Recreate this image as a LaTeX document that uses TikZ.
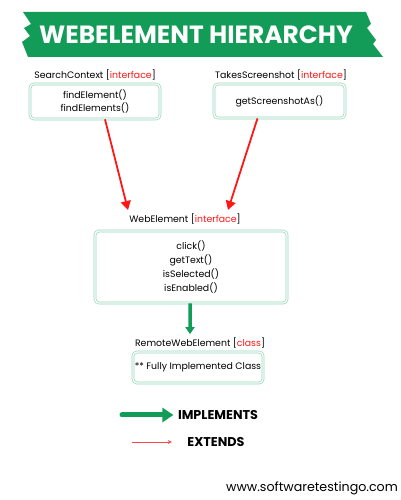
\documentclass[tikz,border=0pt]{standalone}
\usepackage{fontspec}
\setmainfont{Poppins}
\usepackage{xcolor}
\usetikzlibrary{arrows,arrows.meta,positioning}
\definecolor{bannergreen}{RGB}{19,156,87}
\definecolor{boxgreen}{RGB}{150,214,186}
\definecolor{ifred}{RGB}{255,22,22}

\begin{document}
\begin{tikzpicture}[x=1bp,y=1bp,>={Triangle[length=9bp,width=10bp]},semithick,
                    node distance=14bp]
  \tikzstyle{every node}=[font=\fontsize{9.4}{14}\selectfont,text=black]
  \tikzstyle{box}=[draw=boxgreen,double=white,double distance=1.3bp,line width=0.7bp,
                   rounded corners=4bp,align=center,inner sep=0pt]
  \tikzstyle{legend}=[font=\fontsize{12.8}{13}\selectfont\bfseries]
  \tikzstyle{extends}=[->,color=ifred,line width=1.8bp]
  \tikzstyle{implements}=[-{Triangle[length=7bp,width=9bp]},color=bannergreen,line width=3.5bp]

  \useasboundingbox (0,0) rectangle (400,500);

  % banner
  \fill[bannergreen] (23,488) -- (366,488) -- (371,476) -- (367,472) -- (376,460) -- (373,456)
       -- (383,443) -- (28,443) -- (22,458) -- (30,464) -- (24,472) -- (31,476) -- cycle;
  \node[text=white,font=\fontsize{25}{25}\selectfont\bfseries] (title) at (196,465) {WEBELEMENT HIERARCHY};

	\node						(sclbl)	at (95,425)		{SearchContext [\textcolor{ifred}{interface}]};
	\node[box, minimum width=130bp, minimum height=35bp]	(sc)	at (95,398.5)	{findElement()\\findElements()};
	\node						(tslbl)	at (281,425)		{TakesScreenshot [\textcolor{ifred}{interface}]};
	\node[box, minimum width=131bp, minimum height=34bp]	(ts)	at (279.5,399)	{getScreenshotAs()};
	\node						(welbl)	at (185,281)		{WebElement [\textcolor{ifred}{interface}]};
	\node[box, minimum width=192bp, minimum height=72bp]	(we)	at (191,233)	{click()\\getText()\\isSelected()\\isEnabled()};
	\node						(rwelbl) at (200,157)		{RemoteWebElement [\textcolor{ifred}{class}]};
	\node[box, minimum width=130bp, minimum height=31bp]	(rwe)	at (198,132.5)	{** Fully Implemented Class};

	\coordinate (e1) at (128,290);
	\coordinate (e2) at (228,290);

	\path[extends]
    ([xshift=10bp]sc.south)  edge []	node {} (e1)
    ([xshift=-22bp]ts.south) edge []	node {} (e2);
	\path[implements]
    ([xshift=-1bp]we.south)  edge []	node {} ([xshift=-10bp]rwelbl.north);

	% legend
	\node[legend]	(impl)	at (218,85)	{IMPLEMENTS};
	\node[legend]	(ext)	at (216,58)	{EXTENDS};
	\coordinate (i0) at (122,85);
	\coordinate (x0) at (132,58);
	\draw[-{Triangle[length=11bp,width=14bp]},draw=bannergreen,line width=5bp,line cap=round]
    (i0) -- ([xshift=-1bp]impl.west);
	\draw[-{Stealth[length=4bp,width=4bp]},draw=ifred!80,line width=0.7bp]
    (x0) -- ([xshift=-12bp]ext.west);

	\node[font=\fontsize{12.7}{13}\selectfont]	(site)	at (312,12)	{www.softwaretestingo.com};
\end{tikzpicture}
\end{document}
